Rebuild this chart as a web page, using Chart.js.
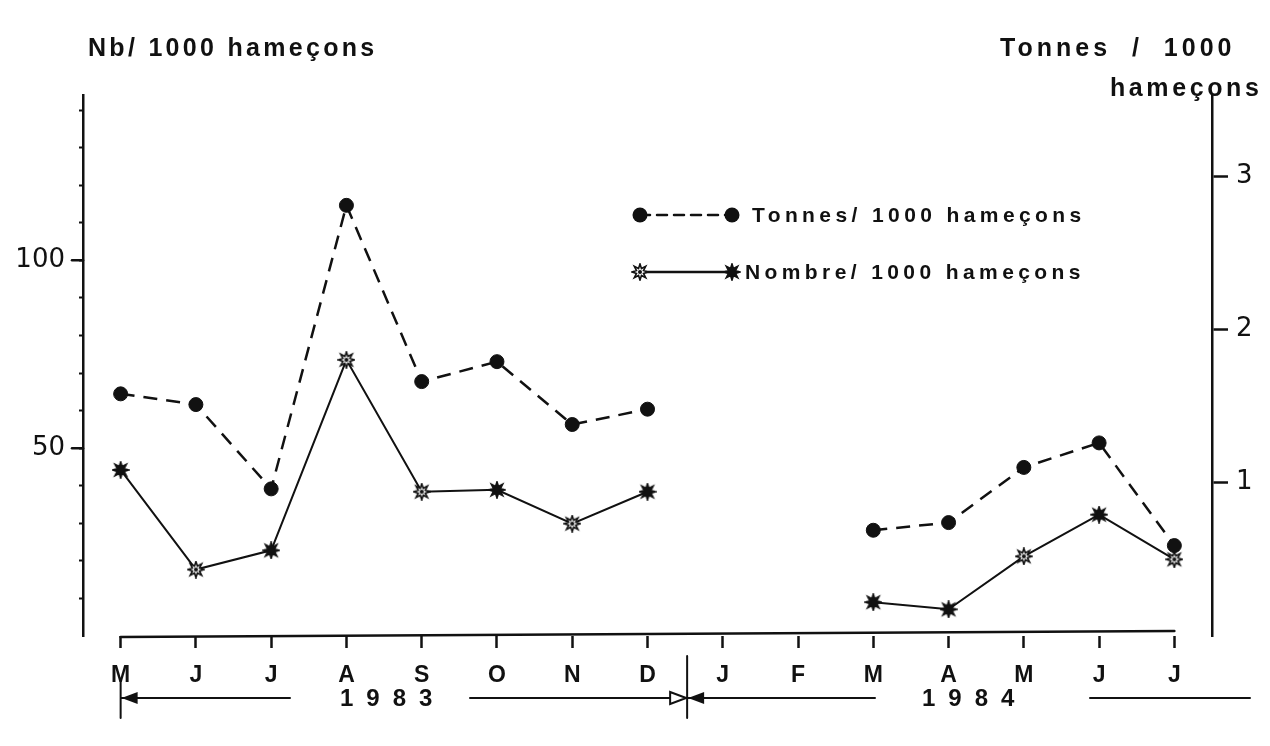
<!DOCTYPE html>
<html>
<head>
<meta charset="utf-8">
<script src="https://cdn.jsdelivr.net/npm/chart.js@4/dist/chart.umd.min.js"></script>
<style>
  body { margin: 0; background: #fff; }
  #wrap { position: relative; width: 1270px; height: 746px; font-family: "Liberation Sans", Arial, sans-serif; color: #111; }
  #wrap canvas { position: absolute; left: 0; top: 0; }
  .lbl { position: absolute; white-space: nowrap; font-weight: bold; line-height: 1; }
</style>
</head>
<body>
<div id="wrap">
  <canvas id="chart" width="1270" height="746"></canvas>
  <div class="lbl" id="titleLeft" style="left:88px; top:35px; font-size:25px; letter-spacing:3.3px;">Nb/ 1000 hameçons</div>
  <div class="lbl" id="titleRight1" style="left:1000px; top:35px; font-size:25px; letter-spacing:4px; word-spacing:10px;">Tonnes / 1000</div>
  <div class="lbl" id="titleRight2" style="left:1110px; top:75px; font-size:25px; letter-spacing:3.6px;">hameçons</div>
  <div class="lbl" id="legTonnes" style="left:752px; top:204px; font-size:21px; letter-spacing:4.4px;">Tonnes/ 1000 hameçons</div>
  <div class="lbl" id="legNombre" style="left:745px; top:261px; font-size:21px; letter-spacing:4.4px;">Nombre/ 1000 hameçons</div>
  <div class="lbl" id="year1" style="left:340px; top:686px; font-size:24px; letter-spacing:13px;">1983</div>
  <div class="lbl" id="year2" style="left:922px; top:686px; font-size:24px; letter-spacing:13px;">1984</div>
</div>
<script>
// months from March 1983 to July 1984
const months = ['M', 'J', 'J', 'A', 'S', 'O', 'N', 'D', 'J', 'F', 'M', 'A', 'M', 'J', 'J'];
// tonnes / 1000 hooks (right axis)
const tonnes = [1.58, 1.51, 0.96, 2.81, 1.66, 1.79, 1.38, 1.48, null, null, 0.69, 0.74, 1.10, 1.26, 0.59];
// number / 1000 hooks (left axis)
const nombre = [44.2, 17.7, 22.8, 73.5, 38.4, 38.9, 29.9, 38.4, null, null, 9.0, 7.1, 21.2, 32.3, 20.4];
const leftTicks = [10, 20, 30, 40, 50, 60, 70, 80, 90, 100, 110, 120, 130, 140];
const leftLabels = [50, 100];
const rightTicks = [1, 2, 3];
// which star markers are drawn solid black
const starSolid = [true, false, true, false, false, true, false, true, false, false, true, true, false, true, false];

function makeStar(solid) {
    const c = document.createElement('canvas');
    c.width = 18; c.height = 18;
    const g = c.getContext('2d');
    g.beginPath();
    for (let i = 0; i < 16; i++) {
        const r = i % 2 === 0 ? 8 : 3.8;
        const a = i * Math.PI / 8 - Math.PI / 2;
        const x = 9 + r * Math.cos(a), y = 9 + r * Math.sin(a);
        if (i === 0) g.moveTo(x, y); else g.lineTo(x, y);
    }
    g.closePath();
    g.fillStyle = solid ? '#111' : '#fff';
    g.fill();
    g.lineWidth = 1.6;
    g.strokeStyle = '#111';
    g.stroke();
    if (!solid) {
        g.beginPath();
        g.arc(9, 9, 2, 0, Math.PI * 2);
        g.fillStyle = '#111';
        g.fill();
    }
    return c;
}
const starFull = makeStar(true);
const starOpen = makeStar(false);

function arrowHead(ctx, x, y, dir, filled) {
    ctx.beginPath();
    ctx.moveTo(x, y);
    ctx.lineTo(x - dir * 16, y - 6);
    ctx.lineTo(x - dir * 16, y + 6);
    ctx.closePath();
    if (filled) { ctx.fillStyle = '#111'; ctx.fill(); }
    else { ctx.fillStyle = '#fff'; ctx.fill(); ctx.lineWidth = 2; ctx.stroke(); }
}

const decor = {
    id: 'decor',
    afterDraw(chart) {
        const ctx = chart.ctx;
        const x = chart.scales.x, yl = chart.scales.y, area = chart.chartArea;
        ctx.save();
        ctx.strokeStyle = '#111';
        ctx.lineCap = 'round';

        // x baseline from first to last month
        ctx.lineWidth = 2.5;
        ctx.beginPath();
        ctx.moveTo(x.getPixelForValue(0), area.bottom + 1);
        ctx.lineTo(x.getPixelForValue(months.length - 1), area.bottom - 5);
        ctx.stroke();

        // longer ticks for labelled values on the left axis
        leftLabels.forEach(v => {
            const py = yl.getPixelForValue(v);
            ctx.beginPath();
            ctx.moveTo(area.left - 11, py);
            ctx.lineTo(area.left, py);
            ctx.stroke();
        });

        // legend samples
        ctx.lineWidth = 2.5;
        ctx.setLineDash([10, 7]);
        ctx.beginPath(); ctx.moveTo(640, 215); ctx.lineTo(732, 215); ctx.stroke();
        ctx.setLineDash([]);
        ctx.fillStyle = '#111';
        [640, 732].forEach(px => { ctx.beginPath(); ctx.arc(px, 215, 7.5, 0, Math.PI * 2); ctx.fill(); });
        ctx.beginPath(); ctx.moveTo(640, 272); ctx.lineTo(732, 272); ctx.stroke();
        ctx.drawImage(starOpen, 631, 263);
        ctx.drawImage(starFull, 723, 263);

        // year brackets under the axis
        const sep = (x.getPixelForValue(7) + x.getPixelForValue(8)) / 2 + 2;
        const x0 = x.getPixelForValue(0);
        const yy = 698;
        ctx.lineWidth = 2;
        ctx.beginPath();
        ctx.moveTo(sep, 656); ctx.lineTo(sep, 718);
        ctx.moveTo(x0, 680); ctx.lineTo(x0, 718);
        ctx.moveTo(x0, yy); ctx.lineTo(290, yy);
        ctx.moveTo(470, yy); ctx.lineTo(sep, yy);
        ctx.moveTo(sep, yy); ctx.lineTo(875, yy);
        ctx.moveTo(1090, yy); ctx.lineTo(1250, yy);
        ctx.stroke();
        arrowHead(ctx, x0 + 1, yy, -1, true);
        arrowHead(ctx, sep - 1, yy, 1, false);
        arrowHead(ctx, sep + 1, yy, -1, true);
        ctx.restore();
    }
};

new Chart(document.getElementById('chart'), {
    type: 'line',
    data: {
        labels: months,
        datasets: [
            {
                label: 'Tonnes/ 1000 hameçons',
                data: tonnes,
                yAxisID: 'y1',
                borderColor: '#111',
                borderWidth: 2.5,
                borderDash: [14, 9],
                pointRadius: 7,
                pointBackgroundColor: '#111',
                pointBorderColor: '#111',
                pointBorderWidth: 1,
                spanGaps: false,
                tension: 0
            },
            {
                label: 'Nombre/ 1000 hameçons',
                data: nombre,
                yAxisID: 'y',
                borderColor: '#111',
                borderWidth: 2,
                pointStyle: starSolid.map(s => s ? starFull : starOpen),
                spanGaps: false,
                tension: 0
            }
        ]
    },
    options: {
        responsive: false,
        animation: false,
        layout: { padding: { top: 95, left: 0, right: 0, bottom: 0 } },
        plugins: { legend: { display: false }, tooltip: { enabled: false } },
        scales: {
            x: {
                offset: true,
                border: { display: false },
                grid: { drawOnChartArea: false, drawTicks: true, tickLength: 12, tickWidth: 2.5, tickColor: '#111', offset: false },
                ticks: { color: '#111', font: { family: 'Liberation Sans', size: 23, weight: 'bold' }, padding: 14, maxRotation: 0, autoSkip: false },
                afterFit(scale) { scale.height = 110; }
            },
            y: {
                position: 'left',
                min: 0,
                max: 144,
                border: { display: true, color: '#111', width: 2.5 },
                grid: { drawOnChartArea: false, drawTicks: true, tickLength: 4, tickWidth: 2, tickColor: '#111' },
                afterBuildTicks(scale) { scale.ticks = leftTicks.map(v => ({ value: v })); },
                ticks: {
                    color: '#111',
                    font: { family: 'DejaVu Sans', size: 26 },
                    padding: 14,
                    callback: v => leftLabels.includes(v) ? String(v) : ''
                },
                afterFit(scale) { scale.width = 83; }
            },
            y1: {
                position: 'right',
                min: 0,
                max: 3.53,
                border: { display: true, color: '#111', width: 2.5 },
                grid: { drawOnChartArea: false, drawTicks: true, tickLength: 16, tickWidth: 2.5, tickColor: '#111' },
                afterBuildTicks(scale) { scale.ticks = rightTicks.map(v => ({ value: v })); },
                ticks: {
                    color: '#111',
                    font: { family: 'DejaVu Sans', size: 26 },
                    padding: 8,
                    callback: v => String(v)
                },
                afterFit(scale) { scale.width = 58; }
            }
        }
    },
    plugins: [decor]
});
</script>
</body>
</html>
